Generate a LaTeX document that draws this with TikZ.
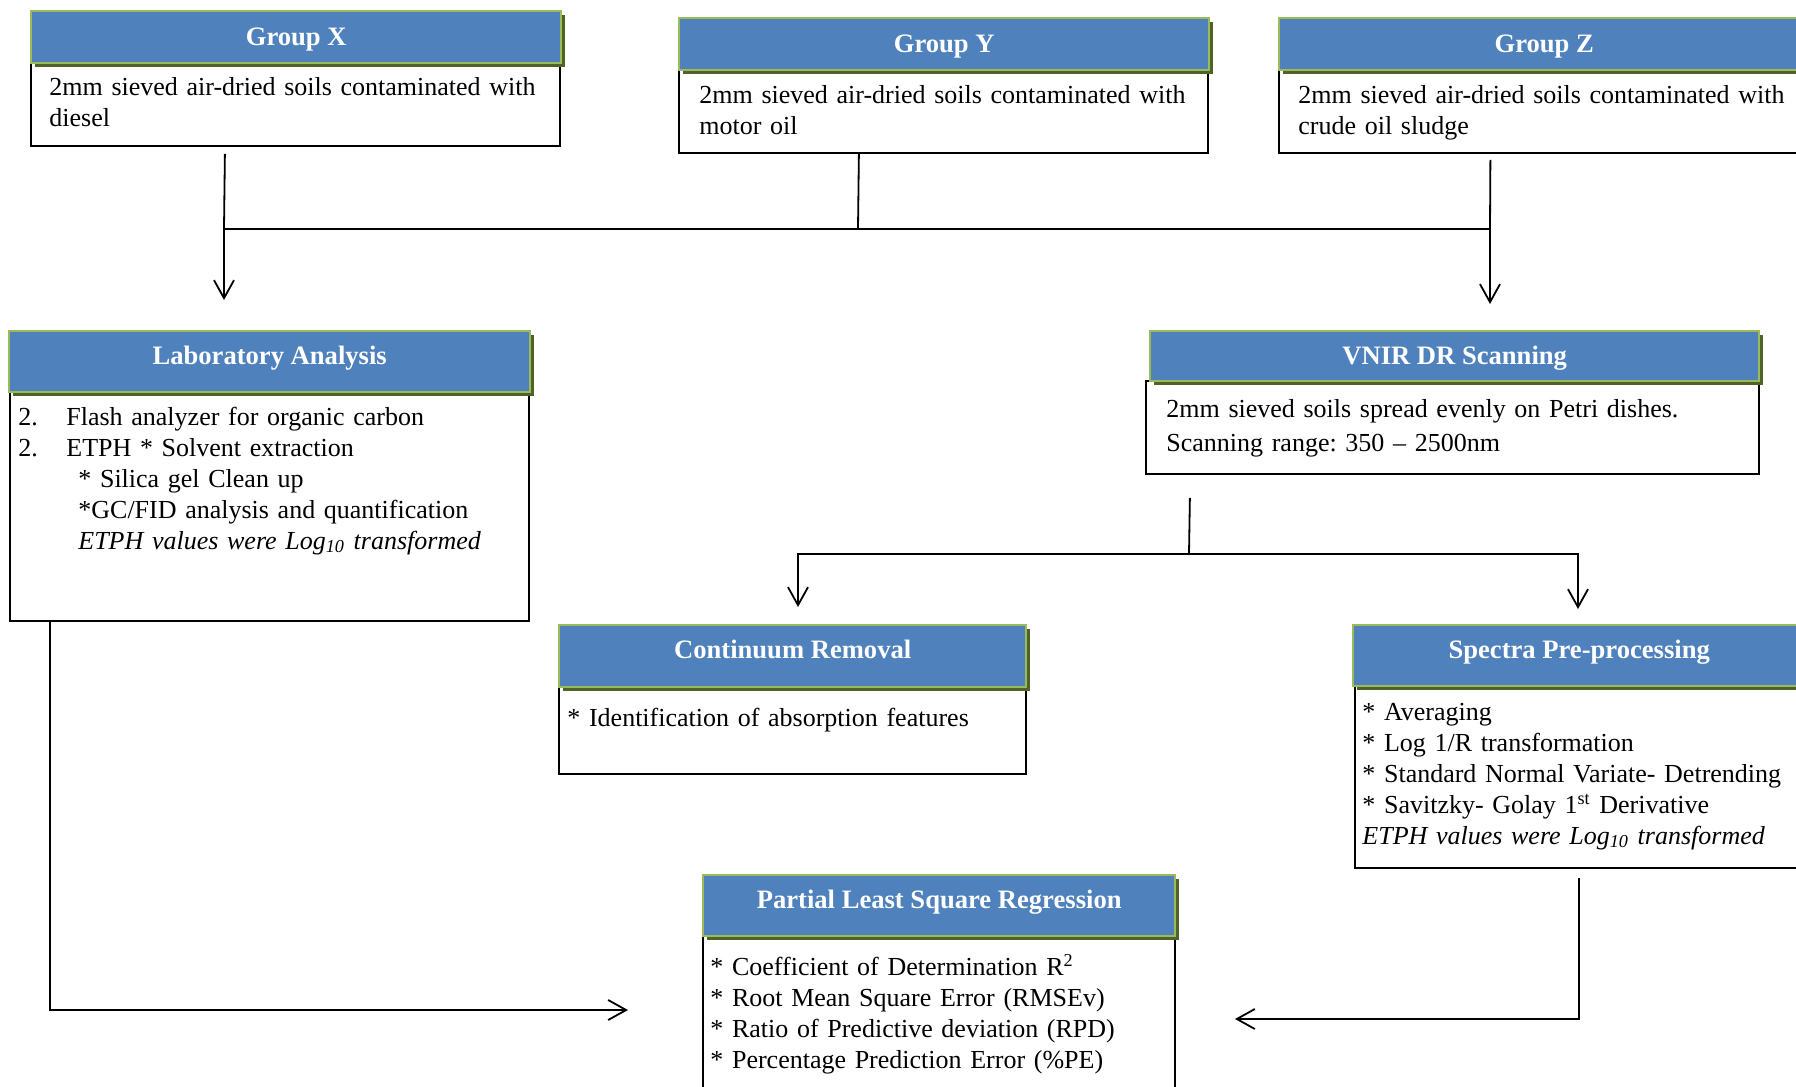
\documentclass[tikz,border=0pt]{standalone}
\usepackage{fontspec}
\setmainfont{Liberation Serif}
\usetikzlibrary{arrows.meta,shadows}
\definecolor{hdrblue}{HTML}{4F81BD}
\definecolor{hdrgreen}{HTML}{9BBB59}
\definecolor{hdrshade}{HTML}{4F6228}
\frenchspacing

\begin{document}
\begin{tikzpicture}[
  x=0.5pt, y=-0.5pt,
  font=\fontsize{13}{15.5}\selectfont,
  head/.style={draw=hdrgreen, line width=1.2pt, fill=hdrblue, anchor=north west,
    inner sep=0pt, text=white, font=\fontsize{13.3}{15.5}\selectfont\bfseries,
    text height=9pt, text depth=3pt,
    drop shadow={shadow xshift=1.8pt, shadow yshift=-1.8pt, fill=hdrshade, opacity=1}},
  thin head/.style={head, text depth=0.7pt},
  tall head/.style={head, text depth=6.4pt},
  body/.style={draw, line width=0.9pt, fill=white, anchor=north west, inner sep=0pt},
  txt/.style={anchor=base west, align=left, inner sep=0pt, text width=300pt},
  arr/.style={-{Straight Barb[length=9pt,width=10pt]}, line width=0.9pt},
  link/.style={line width=0.9pt}
]
\useasboundingbox (0,0) rectangle (1796,1087);
\clip (0,0) rectangle (1796,1087);

% sample groups
\node[body, minimum width=264.5pt, minimum height=41.5pt] (bx) at (30,62) {};
\node[thin head, minimum width=265pt, minimum height=26pt] (hx) at (30,10) {Group X};
\node[txt] (tx) at (49,95) {2mm sieved air-dried soils contaminated with\\diesel};

\node[body, minimum width=264.5pt, minimum height=41.5pt] (by) at (678,69) {};
\node[thin head, minimum width=265pt, minimum height=26pt] (hy) at (678,17) {Group Y};
\node[txt] (ty) at (699,103) {2mm sieved air-dried soils contaminated with\\motor oil};

\node[body, minimum width=264.5pt, minimum height=41.5pt] (bz) at (1278,69) {};
\node[thin head, minimum width=265pt, minimum height=26pt] (hz) at (1278,17) {Group Z};
\node[txt] (tz) at (1298,103) {2mm sieved air-dried soils contaminated with\\crude oil sludge};

% analysis
\node[body, minimum width=259.5pt, minimum height=114.5pt] (bl) at (9,391) {};
\node[tall head, minimum width=260.5pt, minimum height=30.5pt] (hl) at (8,330) {Laboratory Analysis};
\node[txt] (tl) at (18,425) {\makebox[24pt][l]{2.}Flash analyzer for organic carbon\\
  \makebox[24pt][l]{2.}ETPH {*} Solvent extraction\\
  \hspace*{30pt}{*} Silica gel Clean up\\
  \hspace*{30pt}{*}GC/FID analysis and quantification\\
  \hspace*{30pt}\textit{ETPH values were Log\textsubscript{10} transformed}};

\node[body, minimum width=306.5pt, minimum height=46.5pt] (bv) at (1145,380) {};
\node[thin head, minimum width=304.5pt, minimum height=25pt] (hv) at (1149,330) {VNIR DR Scanning};
\node[txt, font=\fontsize{13}{17}\selectfont] (tv) at (1166,417) {2mm sieved soils spread evenly on Petri dishes.\\
  Scanning range: 350 -- 2500nm};

% spectra
\node[body, minimum width=233.5pt, minimum height=43.5pt] (bc) at (558,686) {};
\node[tall head, minimum width=233.5pt, minimum height=31pt] (hc) at (558,624) {Continuum Removal};
\node[txt] (tc) at (567,726) {{*} Identification of absorption features};

\node[body, minimum width=225pt, minimum height=91pt] (bs) at (1354,685) {};
\node[tall head, minimum width=226pt, minimum height=30.5pt] (hs) at (1352,624) {Spectra Pre-processing};
\node[txt] (ts) at (1362,720) {{*} Averaging\\
  {*} Log 1/R transformation\\
  {*} Standard Normal Variate- Detrending\\
  {*} Savitzky- Golay 1\textsuperscript{st} Derivative\\
  \textit{ETPH values were Log\textsubscript{10} transformed}};

% model
\node[body, minimum width=236pt, minimum height=90pt] (bp) at (702,935) {};
\node[tall head, minimum width=236pt, minimum height=30.5pt] (hp) at (702,874) {Partial Least Square Regression};
\node[txt] (tp) at (710,975) {{*} Coefficient of Determination R\textsuperscript{2}\\
  {*} Root Mean Square Error (RMSEv)\\
  {*} Ratio of Predictive deviation (RPD)\\
  {*} Percentage Prediction Error (\%PE)};

% connectors
\coordinate (jy) at (858,229);
\coordinate (xdrop) at (224,300);
\coordinate (zdrop) at (1490,304);
\coordinate (jv) at (1189,554);
\coordinate (cdrop) at (798,607);
\coordinate (sdrop) at (1578,609);
\coordinate (plin) at (628,1010);
\coordinate (prin) at (1235,1019);

\draw[link] ([xshift=-42.25pt]by.south) -- (jy);
\draw[link] ([xshift=-35.25pt,yshift=-3.5pt]bx.south) -- (xdrop |- jy);
\draw[link] ([xshift=-26.5pt,yshift=-3pt]bz.south) -- (zdrop |- jy);
\draw[arr] (jy) -| (xdrop);
\draw[arr] (jy) -| (zdrop);
\draw[link] ([xshift=-131.25pt,yshift=-11.5pt]bv.south) -- (jv);
\draw[arr] (jv) -| (cdrop);
\draw[arr] (jv) -| (sdrop);
\draw[arr] ([xshift=-109.75pt]bl.south) |- (plin);
\draw[arr] ([xshift=-0.5pt,yshift=-4.5pt]bs.south) |- (prin);
\end{tikzpicture}
\end{document}
